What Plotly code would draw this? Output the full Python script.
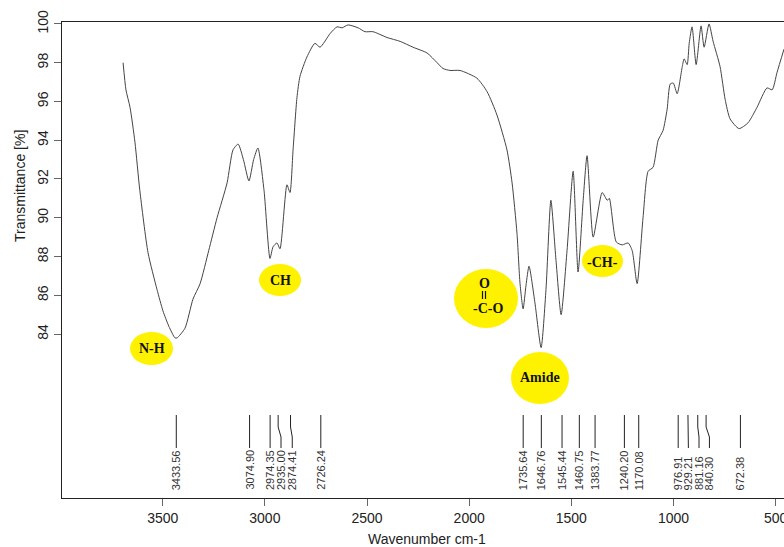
import plotly.graph_objects as go

# ---------------- data ----------------
wavenumber = [3694, 3680, 3660, 3636, 3612, 3572, 3528, 3499, 3470, 3440, 3430, 3391, 3352, 3317,
              3275, 3234, 3185, 3156, 3131, 3105, 3078, 3055, 3034, 3004, 2975, 2960, 2941, 2926,
              2892, 2877, 2862, 2843, 2828, 2794, 2755, 2730, 2681, 2647, 2622, 2593, 2544, 2510,
              2471, 2402, 2338, 2275, 2206, 2157, 2128, 2094, 2045, 1962, 1912, 1864, 1815, 1790,
              1766, 1751, 1736, 1722, 1707, 1678, 1648, 1624, 1600, 1575, 1550, 1521, 1491, 1467,
              1442, 1423, 1393, 1349, 1324, 1314, 1280, 1251, 1222, 1202, 1178, 1149, 1124, 1100,
              1075, 1051, 1031, 1016, 1001, 982, 957, 948, 933, 923, 909, 889, 865, 850, 826, 806,
              772, 747, 723, 679, 635, 591, 542, 517, 493, 459]
transmittance = [98.0, 96.6, 95.7, 93.9, 91.4, 88.2, 86.3, 85.2, 84.4, 83.8, 83.8, 84.3, 85.8, 86.6,
                 88.3, 90.0, 91.8, 93.5, 93.8, 93.0, 91.9, 93.0, 93.6, 91.4, 87.9, 88.5, 88.7, 88.4,
                 91.7, 91.3, 93.5, 96.2, 97.3, 98.3, 99.0, 98.8, 99.5, 99.85, 99.8, 99.95, 99.8, 99.6,
                 99.6, 99.3, 99.1, 98.8, 98.5, 98.0, 97.7, 97.6, 97.6, 97.2, 96.5, 95.3, 93.5, 91.8,
                 89.2, 86.6, 85.3, 86.5, 87.5, 85.6, 83.3, 86.3, 90.9, 87.8, 85.0, 88.3, 92.4, 87.2,
                 90.9, 93.2, 89.0, 91.3, 90.9, 91.0, 88.75, 88.6, 88.7, 88.3, 86.6, 90.0, 92.4, 92.6,
                 94.0, 94.5, 95.6, 96.9, 96.95, 96.4, 97.8, 98.2, 97.9, 99.0, 99.85, 97.9, 99.9, 98.8,
                 100.0, 99.1, 97.8, 96.1, 95.1, 94.6, 94.9, 95.7, 96.7, 96.6, 97.5, 98.7]

peak_wn = [3433.56, 3074.90, 2974.35, 2935.00, 2874.41, 2726.24,
           1735.64, 1646.76, 1545.44, 1460.75, 1383.77, 1240.20, 1170.08,
           976.91, 929.21, 881.16, 840.30, 672.38]
peak_labels = ["3433.56", "3074.90", "2974.35", "2935.00", "2874.41", "2726.24",
               "1735.64", "1646.76", "1545.44", "1460.75", "1383.77", "1240.20", "1170.08",
               "976.91", "929.21", "881.16", "840.30", "672.38"]
# where each label sits (shifted for crowded peaks)
label_wn = [3433.56, 3074.90, 2974.35, 2921, 2866, 2726.24,
            1735.64, 1646.76, 1545.44, 1460.75, 1383.77, 1240.20, 1170.08,
            976.91, 927, 875, 824, 672.38]

y_ticks = [84, 86, 88, 90, 92, 94, 96, 98, 100]
x_ticks = [3500, 3000, 2500, 2000, 1500, 1000, 500]

# ---------------- layout helpers ----------------
W, H = 784, 547
ML, MR, MT, MB = 62, 0, 22, 49
X_RANGE = [3993, 459]
Y_RANGE = [75.54, 100.10]
PW, PH = W - ML - MR, H - MT - MB


def yd(py):
    return Y_RANGE[1] - (py - MT) * (Y_RANGE[1] - Y_RANGE[0]) / PH


def xp(px):
    return (px - ML) / PW


def yp(py):
    return (H - MB - py) / PH


fig = go.Figure()
fig.add_trace(go.Scatter(x=wavenumber, y=transmittance, mode="lines",
                         line=dict(color="#444444", width=1, shape="spline", smoothing=0.6),
                         hoverinfo="skip", showlegend=False))

# peak marker lines + labels
for wn, lw, lab in zip(peak_wn, label_wn, peak_labels):
    if abs(wn - lw) > 1:
        xs = [wn, wn, lw, lw]
        ys = [yd(415), yd(427), yd(437), yd(448)]
    else:
        xs = [wn, wn]
        ys = [yd(415), yd(448)]
    fig.add_trace(go.Scatter(x=xs, y=ys, mode="lines", line=dict(color="#222", width=1),
                             hoverinfo="skip", showlegend=False))
    fig.add_annotation(x=lw, y=yd(492), xref="x", yref="y", text=lab, showarrow=False,
                       textangle=-90, xanchor="center", yanchor="bottom",
                       font=dict(family="Liberation Sans, Arial", size=11, color="#333"))

# yellow highlight ellipses
ellipses = [
    (130, 173, 332, 365),
    (259, 301, 264, 296),
    (454, 518, 269, 328),
    (511, 569, 352, 404),
    (582, 623, 245, 277),
]
for x0, x1, y0, y1 in ellipses:
    fig.add_shape(type="circle", xref="paper", yref="paper",
                  x0=xp(x0), x1=xp(x1), y0=yp(y1), y1=yp(y0),
                  fillcolor="#FFF200", line=dict(width=0), layer="above")

# double bond strokes of O=C-O (drawn as two short bars)
for bx in (482.5, 485.5):
    fig.add_shape(type="line", xref="paper", yref="paper",
                  x0=xp(bx), x1=xp(bx), y0=yp(299), y1=yp(291),
                  line=dict(color="#111", width=1.2), layer="above")

texts = [
    ("N-H", 152, 348, 14),
    ("CH", 280, 280, 14),
    ("O", 484, 283, 14),
    ("-C-O", 488, 308, 14),
    ("Amide", 540, 377, 14),
    ("-CH-", 602, 262, 14),
]
for t, x, y, s in texts:
    fig.add_annotation(x=xp(x), y=yp(y), xref="paper", yref="paper", text="<b>%s</b>" % t,
                       showarrow=False, xanchor="center", yanchor="middle",
                       font=dict(family="Liberation Serif, Times New Roman", size=s, color="#111"))

# axis titles
fig.add_annotation(x=xp(427), y=yp(539), xref="paper", yref="paper", text="Wavenumber cm-1",
                   showarrow=False, xanchor="center", yanchor="middle", borderpad=0,
                   font=dict(family="Liberation Sans, Arial", size=14, color="#222"))
fig.add_annotation(x=xp(20), y=yp(186), xref="paper", yref="paper", text="Transmittance [%]",
                   showarrow=False, textangle=-90, xanchor="center", yanchor="middle",
                   font=dict(family="Liberation Sans, Arial", size=14, color="#222"))

fig.update_layout(
    width=W, height=H, margin=dict(l=ML, r=MR, t=MT, b=MB, autoexpand=False),
    plot_bgcolor="white", paper_bgcolor="white",
    font=dict(family="Liberation Sans, Arial", size=14, color="#222"),
    xaxis=dict(range=X_RANGE, tickvals=x_ticks, showgrid=False, zeroline=False,
               showline=True, mirror=True, linecolor="#222", linewidth=1, automargin=False,
               ticks="outside", ticklen=7, tickcolor="#666", ticklabeloverflow="allow"),
    yaxis=dict(range=Y_RANGE, tickvals=y_ticks, showgrid=False, zeroline=False,
               showline=True, linecolor="#222", linewidth=1, tickangle=-90, automargin=False,
               ticks="outside", ticklen=7, tickcolor="#666"),
)

fig.write_html("out.html")
